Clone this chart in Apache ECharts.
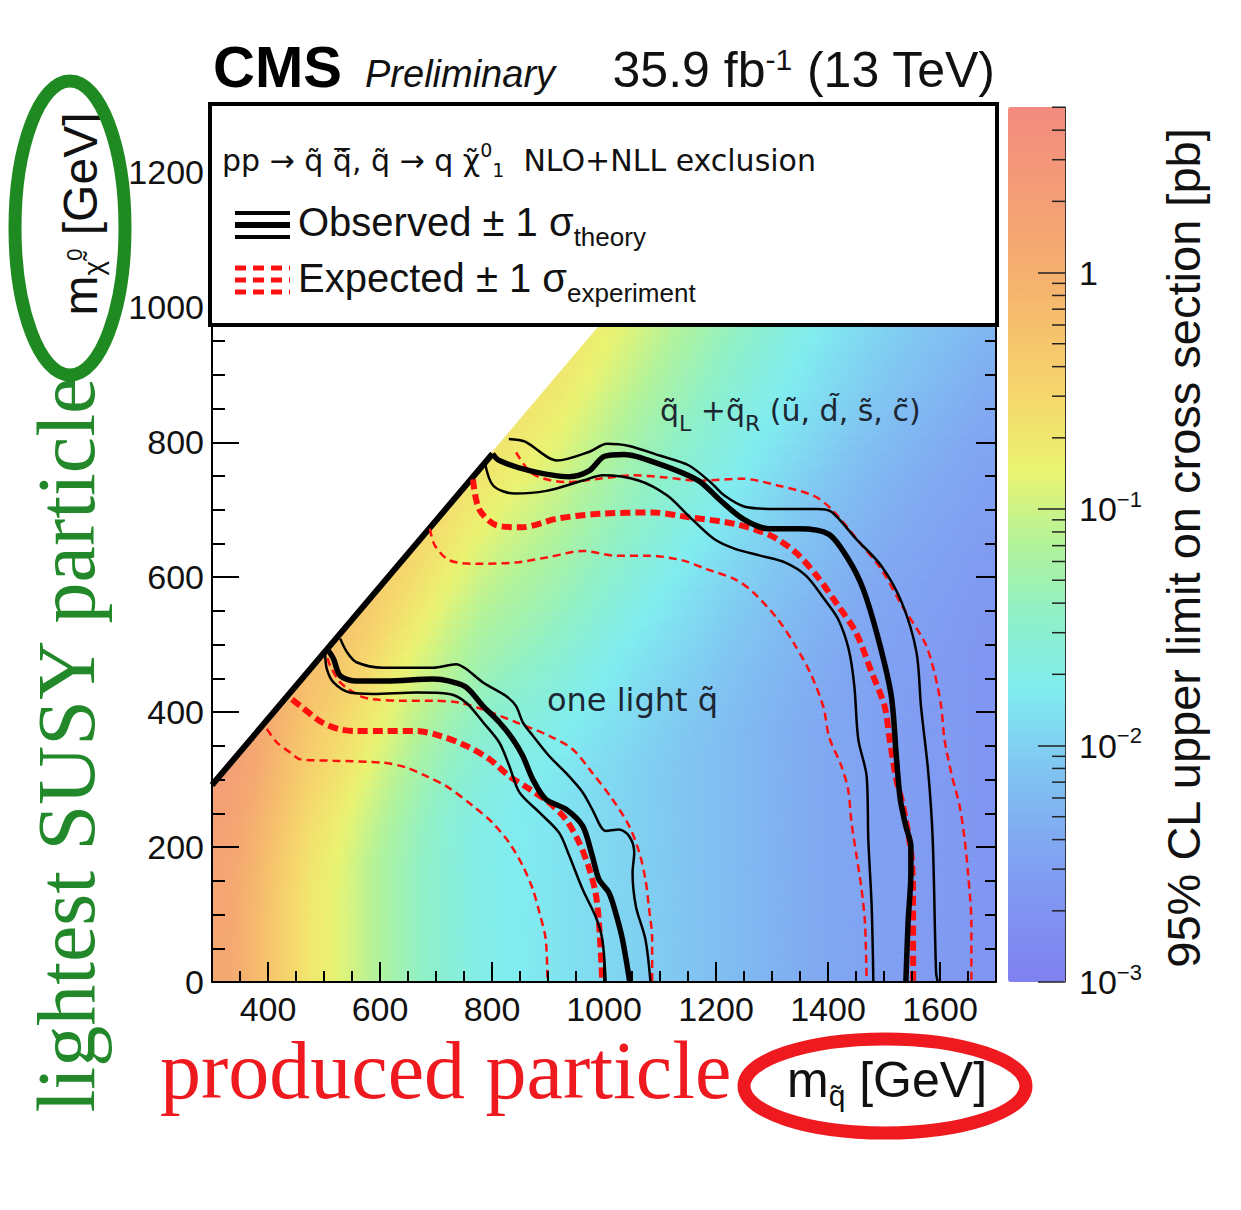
<!DOCTYPE html>
<html>
<head>
<meta charset="utf-8">
<script src="https://cdn.jsdelivr.net/npm/echarts@6/dist/echarts.min.js"></script>
<style>html,body{margin:0;padding:0;background:#ffffff;}#chart{width:1241px;height:1210px;}</style>
</head>
<body>
<div id="chart"></div>
<script>
// ---------------- DATA ----------------
// lower edges of the heat-map bins (GeV)
const mSquarkEdges = [300,350,400,450,500,550,600,650,700,750,800,850,900,950,1000,1050,1100,1150,1200,1250,1300,1350,1400,1450,1500,1550,1600,1650];
const mLspEdges = [0,50,100,150,200,250,300,350,400,450,500,550,600,650,700,750,800,850,900,950];
// log10 of the 95% CL upper limit on the cross section [pb]; one row per mLSP bin, one column per m_squark bin
const limitLog10Rows = [
 [0.15,-0.1,-0.42,-0.7,-0.88,-1.08,-1.27,-1.44,-1.58,-1.69,-1.75,-1.79,-1.84,-1.9,-1.96,-2.02,-2.08,-2.14,-2.2,-2.26,-2.32,-2.38,-2.44,-2.5,-2.54,-2.58,-2.62,-2.66],
 [0.15,-0.1,-0.42,-0.7,-0.88,-1.08,-1.27,-1.44,-1.58,-1.69,-1.75,-1.79,-1.84,-1.9,-1.96,-2.02,-2.08,-2.14,-2.2,-2.26,-2.32,-2.38,-2.44,-2.5,-2.54,-2.58,-2.62,-2.66],
 [0.16,-0.09,-0.42,-0.7,-0.88,-1.08,-1.27,-1.44,-1.58,-1.69,-1.75,-1.79,-1.84,-1.9,-1.96,-2.02,-2.08,-2.14,-2.2,-2.26,-2.32,-2.38,-2.44,-2.5,-2.54,-2.58,-2.62,-2.66],
 [0.20,-0.05,-0.38,-0.67,-0.86,-1.08,-1.27,-1.44,-1.58,-1.69,-1.75,-1.79,-1.84,-1.9,-1.96,-2.02,-2.08,-2.14,-2.2,-2.26,-2.32,-2.38,-2.44,-2.5,-2.54,-2.58,-2.62,-2.66],
 [0.24,0.01,-0.31,-0.61,-0.80,-1.02,-1.23,-1.41,-1.57,-1.69,-1.75,-1.79,-1.84,-1.9,-1.96,-2.02,-2.08,-2.14,-2.2,-2.26,-2.32,-2.38,-2.44,-2.5,-2.54,-2.58,-2.62,-2.66],
 [0.29,0.07,-0.23,-0.52,-0.72,-0.94,-1.15,-1.35,-1.51,-1.64,-1.72,-1.78,-1.84,-1.9,-1.96,-2.02,-2.08,-2.14,-2.2,-2.26,-2.32,-2.38,-2.44,-2.5,-2.54,-2.58,-2.62,-2.66],
 [0.33,0.14,-0.16,-0.43,-0.61,-0.83,-1.06,-1.26,-1.43,-1.57,-1.66,-1.72,-1.79,-1.87,-1.94,-2.02,-2.08,-2.14,-2.2,-2.26,-2.32,-2.38,-2.44,-2.5,-2.54,-2.58,-2.62,-2.66],
 [null,0.2,-0.08,-0.34,-0.52,-0.73,-0.95,-1.15,-1.34,-1.49,-1.58,-1.65,-1.73,-1.82,-1.89,-1.97,-2.05,-2.12,-2.19,-2.26,-2.32,-2.38,-2.44,-2.5,-2.54,-2.58,-2.62,-2.66],
 [null,null,-0.02,-0.25,-0.42,-0.63,-0.85,-1.04,-1.22,-1.38,-1.49,-1.57,-1.65,-1.75,-1.84,-1.93,-2.0,-2.08,-2.15,-2.23,-2.30,-2.37,-2.44,-2.5,-2.54,-2.58,-2.62,-2.66],
 [null,null,null,-0.19,-0.31,-0.51,-0.74,-0.94,-1.11,-1.27,-1.37,-1.46,-1.56,-1.67,-1.77,-1.86,-1.95,-2.03,-2.11,-2.19,-2.26,-2.34,-2.41,-2.48,-2.53,-2.58,-2.62,-2.66],
 [null,null,null,null,-0.25,-0.40,-0.62,-0.82,-1.01,-1.17,-1.27,-1.35,-1.45,-1.57,-1.69,-1.79,-1.88,-1.97,-2.06,-2.14,-2.22,-2.30,-2.37,-2.44,-2.50,-2.55,-2.60,-2.65],
 [null,null,null,null,null,-0.33,-0.51,-0.70,-0.89,-1.06,-1.17,-1.26,-1.35,-1.47,-1.59,-1.70,-1.81,-1.91,-2.0,-2.08,-2.17,-2.25,-2.33,-2.41,-2.46,-2.52,-2.57,-2.62],
 [null,null,null,null,null,null,-0.44,-0.59,-0.77,-0.94,-1.06,-1.16,-1.26,-1.38,-1.49,-1.61,-1.72,-1.83,-1.93,-2.03,-2.11,-2.20,-2.28,-2.36,-2.43,-2.48,-2.54,-2.59],
 [null,null,null,null,null,null,null,-0.52,-0.65,-0.82,-0.95,-1.05,-1.16,-1.29,-1.41,-1.52,-1.63,-1.74,-1.85,-1.95,-2.05,-2.14,-2.23,-2.31,-2.38,-2.44,-2.50,-2.56],
 [null,null,null,null,null,null,null,null,-0.58,-0.72,-0.83,-0.94,-1.05,-1.19,-1.33,-1.44,-1.56,-1.66,-1.77,-1.87,-1.98,-2.08,-2.17,-2.26,-2.33,-2.39,-2.45,-2.51],
 [null,null,null,null,null,null,null,null,null,-0.65,-0.72,-0.83,-0.94,-1.09,-1.23,-1.36,-1.48,-1.59,-1.69,-1.80,-1.90,-2.0,-2.10,-2.20,-2.27,-2.34,-2.41,-2.47],
 [null,null,null,null,null,null,null,null,null,null,-0.66,-0.73,-0.84,-0.99,-1.13,-1.27,-1.39,-1.52,-1.63,-1.73,-1.83,-1.93,-2.03,-2.13,-2.21,-2.28,-2.35,-2.42],
 [null,null,null,null,null,null,null,null,null,null,null,-0.67,-0.74,-0.89,-1.03,-1.17,-1.30,-1.43,-1.55,-1.66,-1.77,-1.87,-1.97,-2.06,-2.14,-2.22,-2.29,-2.37],
 [null,null,null,null,null,null,null,null,null,null,null,null,-0.68,-0.79,-0.94,-1.08,-1.22,-1.35,-1.47,-1.59,-1.70,-1.81,-1.91,-2.0,-2.08,-2.16,-2.23,-2.31],
 [null,null,null,null,null,null,null,null,null,null,null,null,null,-0.74,-0.85,-0.99,-1.13,-1.26,-1.39,-1.51,-1.63,-1.74,-1.85,-1.95,-2.02,-2.10,-2.17,-2.25]
];

// kinematic boundary
const diagonal = [[300,292],[801,783]];

// q_L + q_R (u, d, s, c) contours  [m_squark, m_LSP]
const fourObs = [[801,783],[813,773],[867,758],[938,749],[974,758],[1000,779],[1036,782],[1098,768],[1169,743],[1205,716],[1249,686],[1294,672],[1347,672],[1401,664],[1436,627],[1463,582],[1490,508],[1513,424],[1522,335],[1529,271],[1539,231],[1548,201],[1548,162],[1543,88],[1539,0]];
const fourObsUp = [[830,805],[859,801],[916,773],[974,786],[1005,798],[1043,795],[1101,780],[1151,766],[1190,741],[1215,721],[1253,704],[1310,701],[1380,701],[1406,697],[1450,657],[1495,617],[1532,562],[1558,489],[1566,409],[1579,311],[1587,211],[1593,14],[1596,0]];
const fourObsDown = [[787,771],[802,736],[840,724],[897,728],[961,743],[998,751],[1063,743],[1113,721],[1151,691],[1196,657],[1234,642],[1279,632],[1323,622],[1361,602],[1393,568],[1418,538],[1437,493],[1447,439],[1454,360],[1469,305],[1472,211],[1478,112],[1481,0]];
const fourExp = [[766,745],[777,701],[808,677],[853,674],[917,687],[993,694],[1087,696],[1151,689],[1234,679],[1297,662],[1342,637],[1380,602],[1418,558],[1450,518],[1478,459],[1501,409],[1510,360],[1522,300],[1534,261],[1549,187],[1552,112],[1552,0]];
const fourExpUp = [[843,785],[873,753],[932,741],[991,746],[1051,751],[1110,748],[1169,743],[1247,746],[1310,736],[1374,721],[1406,701],[1456,652],[1495,612],[1532,558],[1573,503],[1590,459],[1602,409],[1608,360],[1620,310],[1635,261],[1644,211],[1650,162],[1656,88],[1656,0]];
const fourExpDown = [[689,672],[698,647],[724,625],[772,620],[843,622],[902,630],[962,639],[1021,632],[1080,632],[1140,625],[1183,612],[1234,597],[1266,578],[1310,538],[1342,498],[1369,457],[1392,407],[1402,363],[1424,320],[1436,285],[1442,236],[1451,187],[1460,137],[1466,88],[1469,0]];

// one light squark contours
const oneObs = [[508,491],[517,479],[529,454],[558,446],[612,446],[695,449],[724,446],[754,437],[784,409],[813,385],[837,360],[855,335],[873,300],[896,271],[932,256],[962,231],[979,187],[991,152],[1009,132],[1021,102],[1033,63],[1046,0]];
const oneObsUp = [[529,509],[541,489],[558,474],[606,466],[695,466],[736,471],[754,464],[784,444],[825,424],[843,409],[855,385],[873,365],[902,335],[932,310],[962,281],[979,256],[1003,224],[1027,226],[1045,216],[1054,192],[1051,162],[1057,112],[1074,63],[1083,0]];
const oneObsDown = [[502,486],[505,464],[517,444],[546,429],[588,427],[665,429],[724,427],[754,414],[784,385],[813,355],[831,320],[849,281],[885,251],[920,221],[938,187],[962,137],[985,97],[997,63],[1003,0]];
const oneExp = [[443,419],[461,407],[496,385],[526,375],[555,372],[606,372],[665,372],[707,365],[754,350],[796,330],[831,305],[867,286],[902,266],[932,241],[956,206],[974,167],[985,132],[991,88],[997,0]];
const oneExpUp = [[506,480],[511,469],[529,444],[564,424],[588,419],[635,417],[695,417],[742,414],[784,404],[843,385],[902,365],[944,345],[979,310],[1015,271],[1045,231],[1063,192],[1074,152],[1080,112],[1086,63],[1086,0]];
const oneExpDown = [[398,375],[416,355],[440,340],[458,330],[517,328],[606,325],[647,318],[683,305],[719,290],[766,261],[801,236],[831,206],[855,172],[873,137],[885,102],[896,63],[899,0]];

// axis ticks
const xTickLabels = [400,600,800,1000,1200,1400,1600];
const yTickLabels = [0,200,400,600,800,1000,1200];
const zTickDecades = [-3,-2,-1,0];

// ---------------- BUILD ----------------
const COLORS = ['#8080f0','#8094f2','#80aaf2','#80c8f2','#80ecf0','#8ef0c8','#b2f39a','#eaf370','#f6d86c','#f6c06c','#f5aa70','#f49a78','#f38a80'];
const ZMIN = -3, ZMAX = 0.7;
const binW = mSquarkEdges[1]-mSquarkEdges[0];
const binH = mLspEdges[1]-mLspEdges[0];
const heatData = [];
limitLog10Rows.forEach((row, j) => {
  row.forEach((v, i) => { if (v !== null) heatData.push([mSquarkEdges[i], mLspEdges[j], v, i, j]); });
});
function cellAt(i, j) { const r = limitLog10Rows[j]; if (!r) return null; const v = r[i]; return (v === undefined) ? null : v; }
function valColor(v) { return echarts.color.lerp(Math.max(0, Math.min(1, (v - ZMIN) / (ZMAX - ZMIN))), COLORS); }
// value of column ii at a vertical position mixing row j with neighbour row jn (display shading only)
function vmix(ii, j, jn, w, fb) { const a = cellAt(ii, j); if (a === null) return fb; const b = cellAt(ii, jn); return b === null ? a : a + (b - a) * w; }
// kinematic limit line (extended) for clipping the cells
const diagSlope = (diagonal[1][1]-diagonal[0][1])/(diagonal[1][0]-diagonal[0][0]);
function edgeG(p) { return diagonal[0][1] + (p[0]-diagonal[0][0])*diagSlope + 3 - p[1]; }
function clipCell(pts) {
  const out = [];
  for (let k = 0; k < pts.length; k++) {
    const P = pts[k], Q = pts[(k+1) % pts.length];
    const gp = edgeG(P), gq = edgeG(Q);
    if (gp >= 0) out.push(P);
    if ((gp >= 0) !== (gq >= 0)) { const t = gp/(gp-gq); out.push([P[0]+t*(Q[0]-P[0]), P[1]+t*(Q[1]-P[1])]); }
  }
  return out;
}
const xMinor = []; for (let v = 300; v <= 1700; v += 50) xMinor.push(v);
const yMinor = []; for (let v = 0; v <= 1300; v += 50) yMinor.push(v);
const zMinor = [];
for (let d = -3; d <= 0; d++) for (let k = 2; k <= 9; k++) { const lv = d + Math.log10(k); if (lv <= ZMAX) zMinor.push([1, lv]); }

const SANS = "'Liberation Sans', Arial, Helvetica, sans-serif";
const DEJ = "'DejaVu Sans', sans-serif";
const SERIF = "'Liberation Serif', 'Times New Roman', serif";
const RED = '#ff1010';
const STRIPS = 4;

function contour(data, color, width, dash) {
  return {type:'line', data:data, xAxisIndex:0, yAxisIndex:0, showSymbol:false, symbol:'none',
    smooth:0.3, silent:true, z:5, lineStyle:{color:color, width:width, type: dash || 'solid', cap:'butt'}};
}
const plainNum = function(v){ return String(v); };

const chart = echarts.init(document.getElementById('chart'), null, {renderer:'svg'});
const tickStyle = {color:'#000', width:2};
const option = {
  animation:false,
  backgroundColor:'#ffffff',
  grid:[
    {left:212, top:105, width:784, height:877, outerBoundsMode:'none'},
    {left:1008, top:107, width:57, height:875, outerBoundsMode:'none'}
  ],
  xAxis:[
    {type:'value', gridIndex:0, min:300, max:1700, position:'bottom', z:10,
     axisLine:{show:true, onZero:false, lineStyle:{color:'#000', width:2}},
     axisTick:{show:true, inside:true, length:20, customValues:xTickLabels, lineStyle:tickStyle},
     axisLabel:{show:true, customValues:xTickLabels, formatter:plainNum, fontSize:34, fontFamily:SANS, color:'#111', margin:10},
     splitLine:{show:false}},
    {type:'value', gridIndex:0, min:300, max:1700, position:'bottom', z:10,
     axisLine:{show:false}, axisLabel:{show:false}, splitLine:{show:false},
     axisTick:{show:true, inside:true, length:11, customValues:xMinor, lineStyle:tickStyle}},
    {type:'value', gridIndex:1, min:0, max:1, show:false}
  ],
  yAxis:[
    {type:'value', gridIndex:0, min:0, max:1300, position:'left', z:10,
     axisLine:{show:true, onZero:false, lineStyle:{color:'#000', width:2}},
     axisTick:{show:true, inside:true, length:27, customValues:yTickLabels, lineStyle:tickStyle},
     axisLabel:{show:true, customValues:yTickLabels, formatter:plainNum, fontSize:34, fontFamily:SANS, color:'#111', margin:8},
     splitLine:{show:false}},
    {type:'value', gridIndex:0, min:0, max:1300, position:'left', z:10,
     axisLine:{show:false}, axisLabel:{show:false}, splitLine:{show:false},
     axisTick:{show:true, inside:true, length:13, customValues:yMinor, lineStyle:tickStyle}},
    {type:'value', gridIndex:0, min:0, max:1300, position:'right', z:10,
     axisLine:{show:true, onZero:false, lineStyle:{color:'#000', width:2}},
     axisTick:{show:true, inside:true, length:20, customValues:yTickLabels, lineStyle:tickStyle},
     axisLabel:{show:false}, splitLine:{show:false}},
    {type:'value', gridIndex:0, min:0, max:1300, position:'right', z:10,
     axisLine:{show:false}, axisLabel:{show:false}, splitLine:{show:false},
     axisTick:{show:true, inside:true, length:11, customValues:yMinor, lineStyle:tickStyle}},
    {type:'value', gridIndex:1, min:ZMIN, max:ZMAX, position:'right', z:10,
     axisLine:{show:true, onZero:false, lineStyle:{color:'#333', width:1}},
     axisTick:{show:true, inside:true, length:27, customValues:zTickDecades, lineStyle:{color:'#222', width:1.5}},
     axisLabel:{show:true, customValues:zTickDecades, fontSize:34, fontFamily:SANS, color:'#111', margin:14,
       formatter:function(v){ return Math.abs(v) < 1e-9 ? '1' : '10{sup|\u2212' + Math.round(-v) + '}'; },
       rich:{sup:{fontSize:22, fontFamily:SANS, color:'#111', padding:[0,0,20,0]}}},
     splitLine:{show:false}}
  ],
  visualMap:{
    type:'continuous', min:ZMIN, max:ZMAX, dimension:2, seriesIndex:0, show:true, calculable:false,
    orient:'vertical', left:1008, top:107, itemWidth:57, itemHeight:875, padding:0, hoverLink:false,
    inRange:{color:COLORS}
  },
  series:[
    {type:'custom', name:'limit', xAxisIndex:0, yAxisIndex:0, data:heatData, z:1, silent:true, clip:true,
     renderItem:function(params, api){
       const x0 = api.value(0), y0 = api.value(1), v = api.value(2), i = api.value(3), j = api.value(4);
       const a = api.coord([x0, y0]), b = api.coord([x0+binW, y0]);
       const children = [];
       for (let k = 0; k < STRIPS; k++) {
         const t = (k + 0.5) / STRIPS;
         const jn = t < 0.5 ? j - 1 : j + 1;
         const w = Math.abs(t - 0.5);
         const vc = vmix(i, j, jn, w, v);
         const vl = vmix(i-1, j, jn, w, vc), vr = vmix(i+1, j, jn, w, vc);
         const ya = y0 + k*binH/STRIPS, yb = y0 + (k+1)*binH/STRIPS;
         const pts = clipCell([[x0,ya],[x0+binW,ya],[x0+binW,yb],[x0,yb]]);
         if (pts.length < 3) continue;
         const grad = new echarts.graphic.LinearGradient(a[0], 0, b[0], 0,
           [{offset:0, color:valColor((vc+vl)/2)}, {offset:0.5, color:valColor(vc)}, {offset:1, color:valColor((vc+vr)/2)}], true);
         children.push({type:'polygon', shape:{points:pts.map(function(p){ return api.coord(p); })}, style:{fill:grad, stroke:grad, lineWidth:0.8}});
       }
       return {type:'group', children:children};
     }},
    {type:'custom', name:'zMinorTicks', xAxisIndex:2, yAxisIndex:4, data:zMinor, z:20, silent:true,
     renderItem:function(params, api){
       const p = api.coord([1, api.value(1)]);
       return {type:'line', shape:{x1:p[0]-13, y1:p[1], x2:p[0], y2:p[1]}, style:{stroke:'#222', lineWidth:1.5}};
     }},
    contour(diagonal, '#000', 6),
    contour(oneExpDown, RED, 2.5, [8,5]),
    contour(oneExpUp, RED, 2.5, [8,5]),
    contour(oneExp, RED, 6, [10,5]),
    contour(oneObsDown, '#000', 2.5),
    contour(oneObsUp, '#000', 2.5),
    contour(oneObs, '#000', 5.5),
    contour(fourExpDown, RED, 2.5, [8,5]),
    contour(fourExpUp, RED, 2.5, [8,5]),
    contour(fourExp, RED, 6, [10,5]),
    contour(fourObsDown, '#000', 2.5),
    contour(fourObsUp, '#000', 2.5),
    contour(fourObs, '#000', 5.5)
  ],
  graphic:{elements:[
    // legend box
    {type:'rect', z:100, shape:{x:210, y:104, width:787, height:221}, style:{fill:'#ffffff', stroke:'#000', lineWidth:4}},
    {type:'text', z:101, x:222, y:160, style:{text:'pp \u2192 q\u0303 q\u0303\u0305, q\u0303 \u2192 q \u03C7\u0303{sup|0}{sub|1}  NLO+NLL exclusion',
      font:'30px '+DEJ, fill:'#111', align:'left', verticalAlign:'middle',
      rich:{sup:{fontSize:19, fontFamily:DEJ, fill:'#111', padding:[0,0,20,0]}, sub:{fontSize:19, fontFamily:DEJ, fill:'#111', padding:[20,0,0,0]}}}},
    {type:'line', z:101, shape:{x1:235, y1:213, x2:290, y2:213}, style:{stroke:'#000', lineWidth:4}},
    {type:'line', z:101, shape:{x1:235, y1:225, x2:290, y2:225}, style:{stroke:'#000', lineWidth:6}},
    {type:'line', z:101, shape:{x1:235, y1:237, x2:290, y2:237}, style:{stroke:'#000', lineWidth:4}},
    {type:'text', z:101, x:298, y:222, style:{text:'Observed \u00B1 1 \u03C3{sub|theory}', font:'40px '+SANS, fill:'#111', align:'left', verticalAlign:'middle',
      rich:{sub:{fontSize:26, fontFamily:SANS, fill:'#111', padding:[30,0,0,0]}}}},
    {type:'line', z:101, shape:{x1:235, y1:268, x2:290, y2:268}, style:{stroke:RED, lineWidth:5, lineDash:[11,7]}},
    {type:'line', z:101, shape:{x1:235, y1:280, x2:290, y2:280}, style:{stroke:RED, lineWidth:5, lineDash:[11,7]}},
    {type:'line', z:101, shape:{x1:235, y1:292, x2:290, y2:292}, style:{stroke:RED, lineWidth:5, lineDash:[11,7]}},
    {type:'text', z:101, x:298, y:278, style:{text:'Expected \u00B1 1 \u03C3{sub|experiment}', font:'40px '+SANS, fill:'#111', align:'left', verticalAlign:'middle',
      rich:{sub:{fontSize:26, fontFamily:SANS, fill:'#111', padding:[30,0,0,0]}}}},
    // title
    {type:'text', z:101, x:213, y:66, style:{text:'CMS', font:'bold 58px '+SANS, fill:'#000', align:'left', verticalAlign:'middle'}},
    {type:'text', z:101, x:365, y:74, style:{text:'Preliminary', font:'italic 38px '+SANS, fill:'#111', align:'left', verticalAlign:'middle'}},
    {type:'text', z:101, x:995, y:70, style:{text:'35.9 fb{sup|-1} (13 TeV)', font:'50px '+SANS, fill:'#111', align:'right', verticalAlign:'middle',
      rich:{sup:{fontSize:30, fontFamily:SANS, fill:'#111', padding:[0,0,22,0]}}}},
    // in-plot labels
    {type:'text', z:20, x:660, y:410, style:{text:'q\u0303{sub|L} +q\u0303{sub|R} (u\u0303, d\u0303, s\u0303, c\u0303)', font:'30px '+DEJ, fill:'#1c2733', align:'left', verticalAlign:'middle',
      rich:{sub:{fontSize:22, fontFamily:DEJ, fill:'#1c2733', padding:[26,0,0,0]}}}},
    {type:'text', z:20, x:547, y:700, style:{text:'one light q\u0303', font:'32px '+DEJ, fill:'#1c2733', align:'left', verticalAlign:'middle'}},
    // colour bar title
    {type:'text', z:101, x:1183, y:548, rotation:Math.PI/2, style:{text:'95% CL upper limit on cross section [pb]', font:'47px '+SANS, fill:'#111', align:'center', verticalAlign:'middle'}},
    // y title with green annotation
    {type:'text', z:101, x:80, y:214, rotation:Math.PI/2, style:{text:'m{sub|\u03C7\u0303}{sup|0} [GeV]', font:'48px '+SANS, fill:'#111', align:'center', verticalAlign:'middle',
      rich:{sub:{fontSize:28, fontFamily:SANS, fill:'#111', padding:[26,0,0,0]}, sup:{fontSize:22, fontFamily:SANS, fill:'#111', padding:[0,0,12,0]}}}},
    {type:'ellipse', z:102, shape:{cx:70, cy:228, rx:55, ry:147}, style:{fill:'none', stroke:'#1f8a22', lineWidth:13}},
    {type:'text', z:101, x:66, y:745, rotation:Math.PI/2, style:{text:'lightest SUSY particle', font:'82px '+SERIF, fill:'#22882a', align:'center', verticalAlign:'middle'}},
    // x title with red annotation
    {type:'text', z:101, x:160, y:1070, style:{text:'produced particle', font:'82px '+SERIF, fill:'#ee1a1f', align:'left', verticalAlign:'middle'}},
    {type:'text', z:101, x:787, y:1080, style:{text:'m{sub|q\u0303} [GeV]', font:'50px '+SANS, fill:'#111', align:'left', verticalAlign:'middle',
      rich:{sub:{fontSize:30, fontFamily:SANS, fill:'#111', padding:[30,0,0,0]}}}},
    {type:'ellipse', z:102, shape:{cx:885, cy:1086, rx:141, ry:47}, style:{fill:'none', stroke:'#ee1a1f', lineWidth:13}}
  ]}
};
chart.setOption(option);
</script>
</body>
</html>
